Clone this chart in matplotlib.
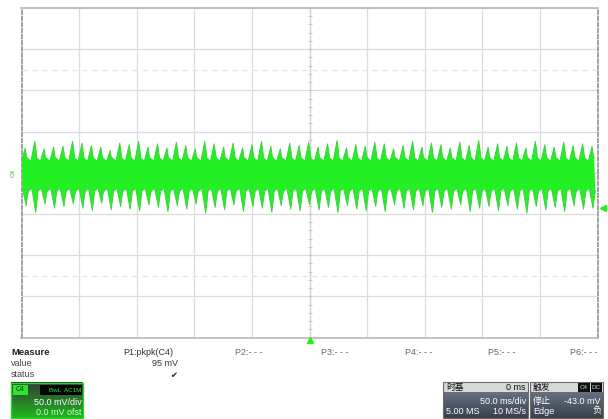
import matplotlib.pyplot as plt
import numpy as np
from matplotlib.patches import Rectangle

plt.rcParams['font.family'] = ['Liberation Sans', 'Noto Sans CJK SC', 'DejaVu Sans']

# scope settings
TIME_PER_DIV_MS = 50.0
VOLT_PER_DIV_MV = 50.0
H_DIVS = 10
V_DIVS = 8
TRIGGER_LEVEL_MV = -43.0
CURSOR_LEVELS_MV = [125.0, -125.0]

# C4 ripple trace: one entry per ripple period
RIPPLE_START_MS = -250.0
RIPPLE_PERIOD_MS = 8.2
BAND_TOP_MV = 14.0
BAND_BOTTOM_MV = -19.0
peak_high_mv = [30, 38, 29, 31, 32, 38, 36, 33, 31, 27,
                36, 34, 38, 31, 35, 30, 37, 33, 29, 38,
                35, 31, 36, 30, 34, 38, 32, 29, 36, 33,
                37, 31, 35, 39, 30, 34, 32, 37, 35, 29,
                33, 38, 31, 36, 34, 30, 37, 33, 39, 31,
                35, 32, 36, 30, 38, 34, 31, 37, 33, 35,
                32]
peak_low_mv = [-40, -48, -38, -43, -41, -38, -43, -46, -37, -45,
               -41, -44, -46, -39, -42, -47, -40, -44, -38, -49,
               -42, -45, -39, -47, -41, -43, -48, -40, -44, -46,
               -39, -45, -42, -48, -40, -44, -46, -41, -47, -39,
               -43, -45, -40, -48, -42, -44, -39, -47, -43, -41,
               -46, -40, -44, -49, -41, -45, -42, -47, -40, -44,
               -43]

measure_names = ["P1:pkpk(C4)", "P2:- - -", "P3:- - -", "P4:- - -", "P5:- - -", "P6:- - -"]
measure_value = "95 mV"

GREEN = '#22f022'


def ripple_edges():
    up_t, up_v, lo_t, lo_v = [], [], [], []
    p = RIPPLE_PERIOD_MS
    for i, (hi, lo) in enumerate(zip(peak_high_mv, peak_low_mv)):
        t0 = RIPPLE_START_MS + i * p
        up_t += [t0, t0 + 0.4 * p, t0 + 0.55 * p, t0 + 0.62 * p]
        up_v += [BAND_TOP_MV, hi, hi - 12, BAND_TOP_MV + 4]
        lo_t += [t0 + 0.1 * p, t0 + 0.5 * p, t0 + 0.62 * p, t0 + 0.75 * p]
        lo_v += [BAND_BOTTOM_MV, lo, lo + 11, BAND_BOTTOM_MV - 3]
    return up_t, up_v, lo_t, lo_v


def main() -> None:
    fig = plt.figure(figsize=(6.08, 4.19), dpi=100)
    fig.patch.set_facecolor('white')

    # screen overlay in pixel coordinates for the info panels
    panel = fig.add_axes([0, 0, 1, 1], zorder=0)
    panel.set_xlim(0, 608)
    panel.set_ylim(419, 0)
    panel.axis('off')

    ax = fig.add_axes([21.5 / 608, (419 - 337.5) / 419, 576 / 608, 329.5 / 419], zorder=1)
    ax.patch.set_alpha(0)
    half_t = TIME_PER_DIV_MS * H_DIVS / 2
    half_v = VOLT_PER_DIV_MV * V_DIVS / 2
    ax.set_xlim(-half_t, half_t)
    ax.set_ylim(-half_v, half_v)
    ax.set_xticks(np.arange(-half_t, half_t + 1, TIME_PER_DIV_MS))
    ax.set_yticks(np.arange(-half_v, half_v + 1, VOLT_PER_DIV_MV))
    ax.grid(True, color='#dcdcdc', lw=0.9)
    ax.tick_params(length=0, labelbottom=False, labelleft=False)
    for side in ['top', 'bottom']:
        ax.spines[side].set_color('#b8b8b8')
        ax.spines[side].set_linewidth(1.2)
    for side in ['left', 'right']:
        ax.spines[side].set_color('#8a8a8a')
        ax.spines[side].set_linewidth(1.1)
        ax.spines[side].set_linestyle((0, (2.5, 1.5)))

    # centre axes with minor ticks
    ax.axvline(0, color='#cfcfcf', lw=0.9)
    ax.axhline(0, color='#cfcfcf', lw=0.9)
    minor_v = np.arange(-half_v, half_v + 1, VOLT_PER_DIV_MV / 5)
    minor_t = np.arange(-half_t, half_t + 1, TIME_PER_DIV_MS / 5)
    ax.plot(np.zeros_like(minor_v), minor_v, ls='none', marker='_', ms=3, color='#c6c6c6', mew=0.7)
    ax.plot(minor_t, np.zeros_like(minor_t), ls='none', marker='|', ms=3, color='#c6c6c6', mew=0.7)

    for lvl in CURSOR_LEVELS_MV:
        ax.axhline(lvl, color='#e4e4e4', lw=0.9, ls=(0, (4, 4)))

    up_t, up_v, lo_t, lo_v = ripple_edges()
    ax.fill(up_t + lo_t[::-1], up_v + lo_v[::-1], color=GREEN, lw=0, zorder=3)
    ax.plot(up_t, up_v, color='#3cd43c', lw=0.7, zorder=3)
    ax.plot(lo_t, lo_v, color='#3cd43c', lw=0.7, zorder=3)

    # markers
    ax.plot(half_t + 5, TRIGGER_LEVEL_MV, marker='<', ms=5, color=GREEN, clip_on=False, zorder=4)
    ax.plot(0, -half_v - 3, marker='^', ms=5, color=GREEN, clip_on=False, zorder=4)
    ax.text(-half_t - 7, 0, 'C4', rotation=90, fontsize=4.5, color='#22c022',
            ha='center', va='center', clip_on=False)

    # measure table
    panel.text(11, 352, 'Measure', fontsize=6.8, fontweight='bold', color='#222222', va='center')
    panel.text(11, 363, 'value', fontsize=6.5, color='#444444', va='center')
    panel.text(11, 374, 'status', fontsize=6.5, color='#444444', va='center')
    name_x = [123, 235, 321, 405, 488, 570]
    for nx, name in zip(name_x, measure_names):
        panel.text(nx, 352, name, fontsize=6.5, color='#333333' if nx == 123 else '#666666', va='center')
    panel.text(178, 363, measure_value, fontsize=6.5, color='#333333', ha='right', va='center')
    panel.text(174, 375, '\u2714', fontsize=6, color='#222222', ha='center', va='center',
               family='DejaVu Sans')

    # channel box
    grad = np.linspace(0, 1, 64)[:, None]
    top = np.array([0.20, 0.23, 0.22])
    bot = np.array([0.12, 0.72, 0.12])
    img = top + (bot - top) * grad[..., None]
    panel.imshow(img, extent=(11, 83, 418, 383), aspect='auto', zorder=1)
    panel.add_patch(Rectangle((11, 383), 72, 35, fill=False, ec='#2ad42a', lw=1, zorder=2))
    panel.add_patch(Rectangle((12.5, 384.5), 15, 10, fc='#2ee52e', ec='none', zorder=2))
    panel.text(20, 389.5, 'C4', fontsize=5, color='#0a3a0a', ha='center', va='center', zorder=3)
    panel.add_patch(Rectangle((40, 385), 42, 10, fc='#050505', ec='none', zorder=2))
    panel.text(81, 390, 'BwL  AC1M', fontsize=4.5, color='#3be03b', ha='right', va='center', zorder=3)
    panel.text(82, 402.5, '50.0 mV/div', fontsize=6.5, color='white', ha='right', va='center', zorder=3)
    panel.text(82, 412, '0.0 mV ofst', fontsize=6.5, color='#c8ffc8', ha='right', va='center', zorder=3)

    # timebase and trigger boxes
    for x0, x1 in [(443, 528), (530, 603)]:
        body = np.linspace(0, 1, 32)[:, None]
        c0 = np.array([0.40, 0.44, 0.50])
        c1 = np.array([0.22, 0.25, 0.30])
        panel.imshow(c0 + (c1 - c0) * body[..., None], extent=(x0, x1, 418, 392),
                     aspect='auto', zorder=1)
        panel.add_patch(Rectangle((x0, 382), x1 - x0, 10, fc='#d8d8d8', ec='none', zorder=2))
        panel.add_patch(Rectangle((x0, 382), x1 - x0, 36, fill=False, ec='#6a6a6a', lw=0.8, zorder=2))
    panel.text(446, 387, '时基', fontsize=6.3, color='#111111', va='center', zorder=3)
    panel.text(526, 387, '0 ms', fontsize=6.5, color='#111111', ha='right', va='center', zorder=3)
    panel.text(526, 401, '50.0 ms/div', fontsize=6.5, color='white', ha='right', va='center', zorder=3)
    panel.text(446, 411, '5.00 MS', fontsize=6.5, color='white', va='center', zorder=3)
    panel.text(526, 411, '10 MS/s', fontsize=6.5, color='white', ha='right', va='center', zorder=3)

    panel.text(533, 387, '触发', fontsize=6.3, color='#111111', va='center', zorder=3)
    for bx, lab in [(578, 'C4'), (590.5, 'DC')]:
        panel.add_patch(Rectangle((bx, 383), 11.5, 8.5, fc='#111111', ec='none', zorder=3))
        panel.text(bx + 5.75, 387.3, lab, fontsize=4.5, color='#d0d0d0', ha='center', va='center', zorder=4)
    panel.text(533, 401, '停止', fontsize=6.5, color='white', va='center', zorder=3)
    panel.text(601, 401, '-43.0 mV', fontsize=6.5, color='white', ha='right', va='center', zorder=3)
    panel.text(533, 411, 'Edge', fontsize=6.5, color='white', va='center', zorder=3)
    panel.text(601, 411, '负', fontsize=6.5, color='white', ha='right', va='center', zorder=3)

    fig.savefig('out.png', dpi=100)
    plt.close(fig)


if __name__ == '__main__':
    main()
